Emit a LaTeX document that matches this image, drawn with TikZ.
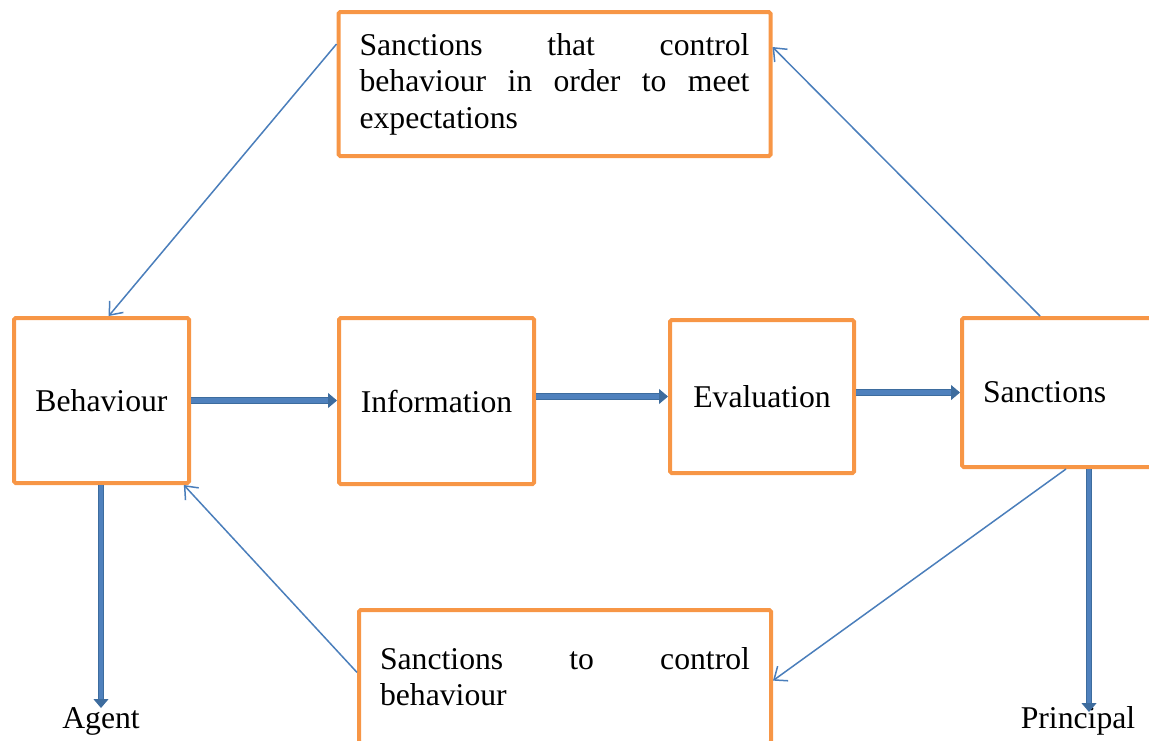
\documentclass[tikz,border=0pt]{standalone}
\usepackage{fontspec}
\setmainfont{Liberation Serif}
\usetikzlibrary{arrows.meta,calc}
\hyphenpenalty=10000
\exhyphenpenalty=10000
\definecolor{boxorange}{HTML}{F79646}
\definecolor{linkblue}{HTML}{4A7EBB}
\definecolor{fatdark}{HTML}{3D6C9E}
\definecolor{fatmid}{HTML}{4F81BD}
\tikzset{
  txt/.style={font=\fontsize{15.85}{18.25}\selectfont},
  box/.style={txt, draw=boxorange, line width=2pt, rounded corners=0.8pt, inner sep=0pt},
  parbox/.style={box, align=justify, inner xsep=10.5pt},
  link/.style={draw=linkblue, line width=0.75pt, -{Straight Barb[length=5.5pt,width=9pt]}},
  fat/.style={draw=fatdark, line width=0.5pt, double=fatmid, double distance=2.2pt,
              -{Triangle[length=4.5pt,width=7.5pt]}},
}
\begin{document}
\begin{tikzpicture}[x=0.5pt, y=-0.5pt]
\useasboundingbox (0,0) rectangle (1149,740);
\clip (0,0) rectangle (1149,740);

% main chain
\node[box, minimum width=87.5pt, minimum height=82.5pt] (beh) at (101.5,400.5) {Behaviour};
\node[box, minimum width=97.5pt, minimum height=83pt] (inf) at (436.5,401) {Information};
\node[box, minimum width=92pt, minimum height=76.5pt] (eva) at (762,396.5) {Evaluation};
\node[box, minimum height=74.5pt, text width=77pt, align=left, inner xsep=10.5pt] (san) at (1060,392.5)
  {\raisebox{-1.5pt}{Sanctions}};

% feedback boxes
\node[parbox, text width=195pt, minimum height=72pt] (top) at (554.5,84)
  {Sanctions that control behaviour in order to meet expectations};
\node[parbox, text width=185pt, minimum height=66.5pt] (bot) at (565,676.5)
  {Sanctions to control behaviour};

% roles
\node[txt, inner sep=0pt] (agent) at (101,721) {Agent};
\node[txt, inner sep=0pt] (principal) at (1078,721) {Principal};
\coordinate (atip) at (101,708);
\coordinate (ptip) at (1089,712);

% flow arrows
\draw[fat] (beh.east) -- (beh.east -| inf.west);
\draw[fat] (inf.east |- eva.west) -- (eva.west);
\draw[fat] (eva.east |- san.west) -- (san.west);
\draw[fat] (atip |- beh.south) -- (atip);
\draw[fat] (san.south -| ptip) -- (ptip);

% sanction links
\draw[link] ($(top.north west)!0.23!(top.south west)$) -- ($(beh.north west)!0.54!(beh.north east)$);
\draw[link] ($(san.north west)!0.40!(san.north east)$) -- ($(top.north east)!0.25!(top.south east)$);
\draw[link] ($(san.south west)!0.53!(san.south east)$) -- ($(bot.north east)!0.53!(bot.south east)$);
\draw[link] ($(bot.north west)!0.47!(bot.south west)$) -- ($(beh.south west)!0.96!(beh.south east)$);
\end{tikzpicture}
\end{document}
